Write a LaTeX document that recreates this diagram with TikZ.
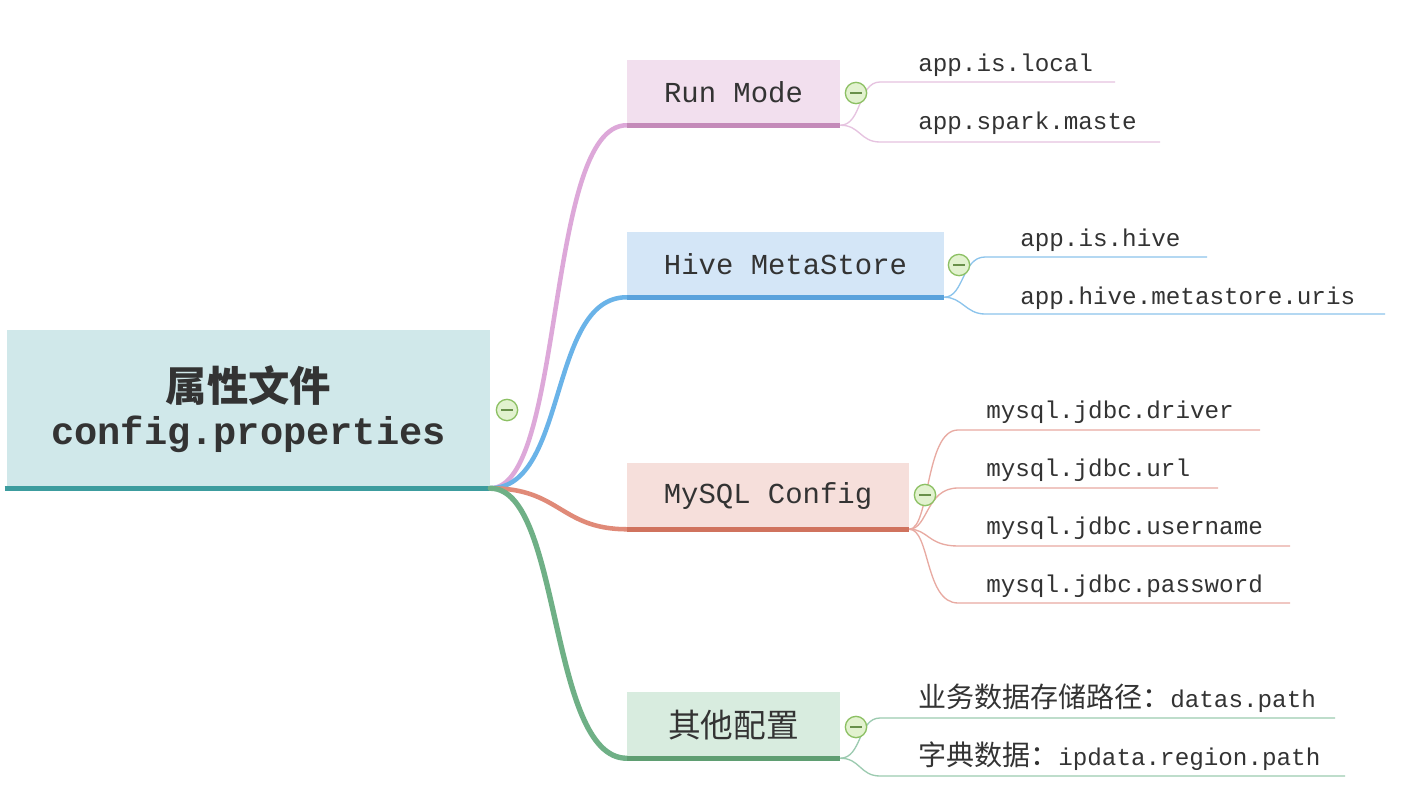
\documentclass[tikz,border=0pt]{standalone}
\usepackage{fontspec}
\setmonofont{Liberation Mono}
\newfontfamily\cjk{Noto Sans CJK SC}
\definecolor{txt}{HTML}{333333}
\definecolor{rootfill}{HTML}{D0E8EA}
\definecolor{rootline}{HTML}{3C9C9E}
\definecolor{pinkfill}{HTML}{F2DFEE}
\definecolor{pinkline}{HTML}{C48AB9}
\definecolor{pinkcon}{HTML}{DDA8D9}
\definecolor{pinkthin}{HTML}{E6C3E0}
\definecolor{bluefill}{HTML}{D4E6F7}
\definecolor{blueline}{HTML}{5AA2DC}
\definecolor{bluecon}{HTML}{6AB3E8}
\definecolor{bluethin}{HTML}{8CC4EC}
\definecolor{redfill}{HTML}{F6DFDB}
\definecolor{redline}{HTML}{D0735E}
\definecolor{redcon}{HTML}{E08A78}
\definecolor{redthin}{HTML}{E8AAA2}
\definecolor{greenfill}{HTML}{D8ECDF}
\definecolor{greenline}{HTML}{5F9E72}
\definecolor{greencon}{HTML}{6FB086}
\definecolor{greenthin}{HTML}{9CCBB0}
\definecolor{colfill}{HTML}{E2F2CF}
\definecolor{colline}{HTML}{8CC063}
\tikzset{
  boxnode/.style={rectangle, inner sep=0pt, text=txt,
    font=\ttfamily\fontsize{21.7}{26}\selectfont},
  leaf/.style={anchor=base west, inner sep=0pt, text=txt,
    font=\ttfamily\fontsize{18.2}{22}\selectfont},
  cjkleaf/.style={font=\cjk\fontsize{21}{25}\selectfont},
  bottomline/.style={line width=3.6pt, line cap=butt},
  maincon/.style={line width=3.4pt, line cap=round},
  thin/.style={line width=1pt},
  collapse/.style={circle, draw=colline, fill=colfill, line width=1pt,
    minimum size=16pt, inner sep=0pt,
    path picture={\draw[colline!75!black, line width=1.1pt]
      ([xshift=-4.2pt]path picture bounding box.center) --
      ([xshift=4.2pt]path picture bounding box.center);}}
}
\begin{document}
\begin{tikzpicture}[x=0.75pt,y=-0.75pt]
\useasboundingbox (0,0) rectangle (1406,796);
\fill[white] (0,0) rectangle (1406,796);

% ---------- root ----------
\node[boxnode, fill=rootfill, minimum width=483*0.75pt, minimum height=158*0.75pt,
      align=center] (root) at (248.5,409)
  {{\cjk\bfseries\fontsize{31}{37}\selectfont 属性文件}\\[6pt]
   {\bfseries\fontsize{29}{35}\selectfont config.properties}};
\draw[bottomline, rootline] ([xshift=-1.5pt]root.south west) -- (root.south east);
\node[collapse] (c0) at (507,410) {};

% ---------- level 1 boxes ----------
\node[boxnode, fill=pinkfill, minimum width=213*0.75pt, minimum height=65*0.75pt]
  (run) at (733.5,92.5) {Run Mode};
\node[boxnode, fill=bluefill, minimum width=317*0.75pt, minimum height=65*0.75pt]
  (hive) at (785.5,264.5) {Hive MetaStore};
\node[boxnode, fill=redfill, minimum width=282*0.75pt, minimum height=66*0.75pt]
  (mysql) at (768,496) {MySQL Config};
\node[boxnode, fill=greenfill, minimum width=213*0.75pt, minimum height=66*0.75pt,
      font=\cjk\fontsize{24.5}{29}\selectfont]
  (other) at (733.5,725) {其他配置};

% main connectors
\draw[maincon, pinkcon] (root.south east) .. controls (565,488) and (545,125) .. (run.south west);
\draw[maincon, bluecon] (root.south east) .. controls (568,488) and (548,297) .. (hive.south west);
\draw[maincon, redcon] (root.south east) .. controls (560,488) and (560,529) .. (mysql.south west);
\draw[maincon, greencon, line width=4pt] (root.south east) .. controls (562,488) and (548,758) .. (other.south west);

\draw[bottomline, pinkline] (run.south west) -- (run.south east);
\draw[bottomline, blueline] (hive.south west) -- (hive.south east);
\draw[bottomline, redline] (mysql.south west) -- (mysql.south east);
\draw[bottomline, greenline] (other.south west) -- (other.south east);

% ---------- Run Mode leaves ----------
\node[leaf] (r1) at (918,71) {app.is.local};
\node[leaf] (r2) at (918,129) {app.spark.maste};
\coordinate (r1s) at (880,82);  \coordinate (r1e) at (1115,82);
\coordinate (r2s) at (880,142); \coordinate (r2e) at (1160,142);
\draw[thin, pinkthin] (run.south east) .. controls (862,125) and (858,82) .. (r1s) -- (r1e);
\draw[thin, pinkthin] (run.south east) .. controls (860,125) and (860,142) .. (r2s) -- (r2e);

% ---------- Hive leaves ----------
\node[leaf] (h1) at (1020,246) {app.is.hive};
\node[leaf] (h2) at (1020,304) {app.hive.metastore.uris};
\coordinate (h1s) at (985,257);  \coordinate (h1e) at (1207,257);
\coordinate (h2s) at (985,314);  \coordinate (h2e) at (1385,314);
\draw[thin, bluethin] (hive.south east) .. controls (964,297) and (962,257) .. (h1s) -- (h1e);
\draw[thin, bluethin] (hive.south east) .. controls (962,297) and (966,314) .. (h2s) -- (h2e);

% ---------- MySQL leaves ----------
\node[leaf] (m1) at (986,418) {mysql.jdbc.driver};
\node[leaf] (m2) at (986,476) {mysql.jdbc.url};
\node[leaf] (m3) at (986,534) {mysql.jdbc.username};
\node[leaf] (m4) at (986,592) {mysql.jdbc.password};
\coordinate (m1s) at (958,430); \coordinate (m1e) at (1260,430);
\coordinate (m2s) at (958,488); \coordinate (m2e) at (1218,488);
\coordinate (m3s) at (958,546); \coordinate (m3e) at (1290,546);
\coordinate (m4s) at (958,603); \coordinate (m4e) at (1290,603);
\draw[thin, redthin] (mysql.south east) .. controls (930,529) and (925,430) .. (m1s) -- (m1e);
\draw[thin, redthin] (mysql.south east) .. controls (928,529) and (926,488) .. (m2s) -- (m2e);
\draw[thin, redthin] (mysql.south east) .. controls (928,529) and (928,546) .. (m3s) -- (m3e);
\draw[thin, redthin] (mysql.south east) .. controls (930,529) and (925,603) .. (m4s) -- (m4e);

% ---------- Other leaves ----------
\node[leaf] (o1) at (918,707) {{\cjk\fontsize{21}{25}\selectfont 业务数据存储路径：}datas.path};
\node[leaf] (o2) at (918,765) {{\cjk\fontsize{21}{25}\selectfont 字典数据：}ipdata.region.path};
\coordinate (o1s) at (880,718); \coordinate (o1e) at (1335,718);
\coordinate (o2s) at (880,776); \coordinate (o2e) at (1345,776);
\draw[thin, greenthin] (other.south east) .. controls (862,758) and (858,718) .. (o1s) -- (o1e);
\draw[thin, greenthin] (other.south east) .. controls (860,758) and (860,776) .. (o2s) -- (o2e);

% collapse markers
\node[collapse] (c1) at (856,93) {};
\node[collapse] (c2) at (959,265) {};
\node[collapse] (c3) at (925,495) {};
\node[collapse] (c4) at (856,727) {};
\end{tikzpicture}
\end{document}
